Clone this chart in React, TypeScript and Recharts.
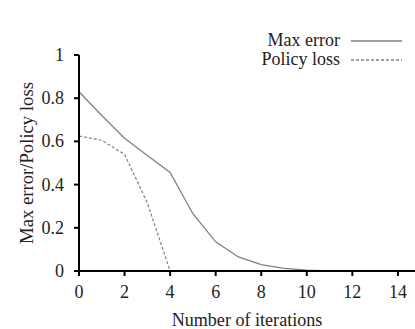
import React from "react";
import { LineChart, Line, XAxis, YAxis, Legend } from "recharts";

// iterations and series values
const iterations = [0, 1, 2, 3, 4, 5, 6, 7, 8, 9, 10, 11];
const maxError = [0.83, 0.72, 0.615, 0.535, 0.456, 0.265, 0.135, 0.065, 0.03, 0.012, 0.004, 0];
const policyLoss = [0.625, 0.605, 0.54, 0.315, 0, null, null, null, null, null, null, null];

const xTicks = [0, 2, 4, 6, 8, 10, 12, 14];
const yTicks = [0, 0.2, 0.4, 0.6, 0.8, 1];

const FONT = "'Liberation Serif', 'Times New Roman', serif";
const TEXT = { fontFamily: FONT, fontSize: 18, fill: "#222" };

const data = iterations.map((it, i) => ({
  it,
  maxError: maxError[i],
  policyLoss: policyLoss[i],
}));

// plain svg text so the serif face is really used
const XTick = ({ x, y, payload }: any) => (
  <text x={x} y={y} dy={15} textAnchor="middle" style={TEXT}>
    {payload.value}
  </text>
);

const YTick = ({ x, y, payload }: any) => (
  <text x={x} y={y} dy={6} textAnchor="end" style={TEXT}>
    {payload.value}
  </text>
);

// rotated y title, centred on the plot height
const YTitle = ({ viewBox }: any) => {
  const cx = viewBox.x + 26;
  const cy = viewBox.y + viewBox.height / 2;
  return (
    <text
      x={cx}
      y={cy}
      transform={`rotate(-90, ${cx}, ${cy})`}
      textAnchor="middle"
      dominantBaseline="central"
      style={{ ...TEXT, fontSize: 18.7 }}
    >
      Max error/Policy loss
    </text>
  );
};

const LegendBox = () => (
  <div style={{ fontFamily: FONT, fontSize: 18, color: "#222", lineHeight: "19px" }}>
    {[
      { label: "Max error", dash: undefined },
      { label: "Policy loss", dash: "3 2" },
    ].map((row) => (
      <div key={row.label} style={{ display: "flex", alignItems: "center", justifyContent: "flex-end" }}>
        <span>{row.label}</span>
        <svg width={62} height={10} style={{ marginLeft: 11 }}>
          <line x1={0} x2={51} y1={5} y2={5} stroke="#808080" strokeWidth={1.4} strokeDasharray={row.dash} />
        </svg>
      </div>
    ))}
  </div>
);

export default function App() {
  return (
    <div style={{ position: "absolute", left: 0, top: 0, width: 415, height: 329, background: "#fff", fontFamily: FONT }}>
      <LineChart
        width={415}
        height={329}
        data={data}
        margin={{ top: 17, right: 0, left: 0, bottom: 0 }}
        style={{ fontFamily: FONT }}
      >
        <XAxis
          dataKey="it"
          type="number"
          domain={[0, 14.75]}
          ticks={xTicks}
          allowDataOverflow
          height={58}
          stroke="#000"
          strokeWidth={2}
          tickSize={5}
          tick={<XTick />}
          tickMargin={7}
          label={{
            value: "Number of iterations",
            position: "insideBottom",
            offset: 3,
            style: { ...TEXT, fontSize: 18.1 },
          }}
        />
        <YAxis
          type="number"
          domain={[0, 1]}
          ticks={yTicks}
          width={79}
          stroke="#000"
          strokeWidth={2}
          tickSize={5}
          tickMargin={10}
          tick={<YTick />}
          label={{ content: <YTitle /> }}
        />
        <Legend
          verticalAlign="top"
          content={() => <LegendBox />}
          wrapperStyle={{ position: "absolute", top: 31, left: 200, width: 213 }}
        />
        <Line
          dataKey="maxError"
          stroke="#808080"
          strokeWidth={1.3}
          dot={false}
          type="linear"
          isAnimationActive={false}
        />
        <Line
          dataKey="policyLoss"
          stroke="#808080"
          strokeWidth={1.2}
          strokeDasharray="3 2"
          dot={false}
          type="linear"
          connectNulls={false}
          isAnimationActive={false}
        />
      </LineChart>
    </div>
  );
}
